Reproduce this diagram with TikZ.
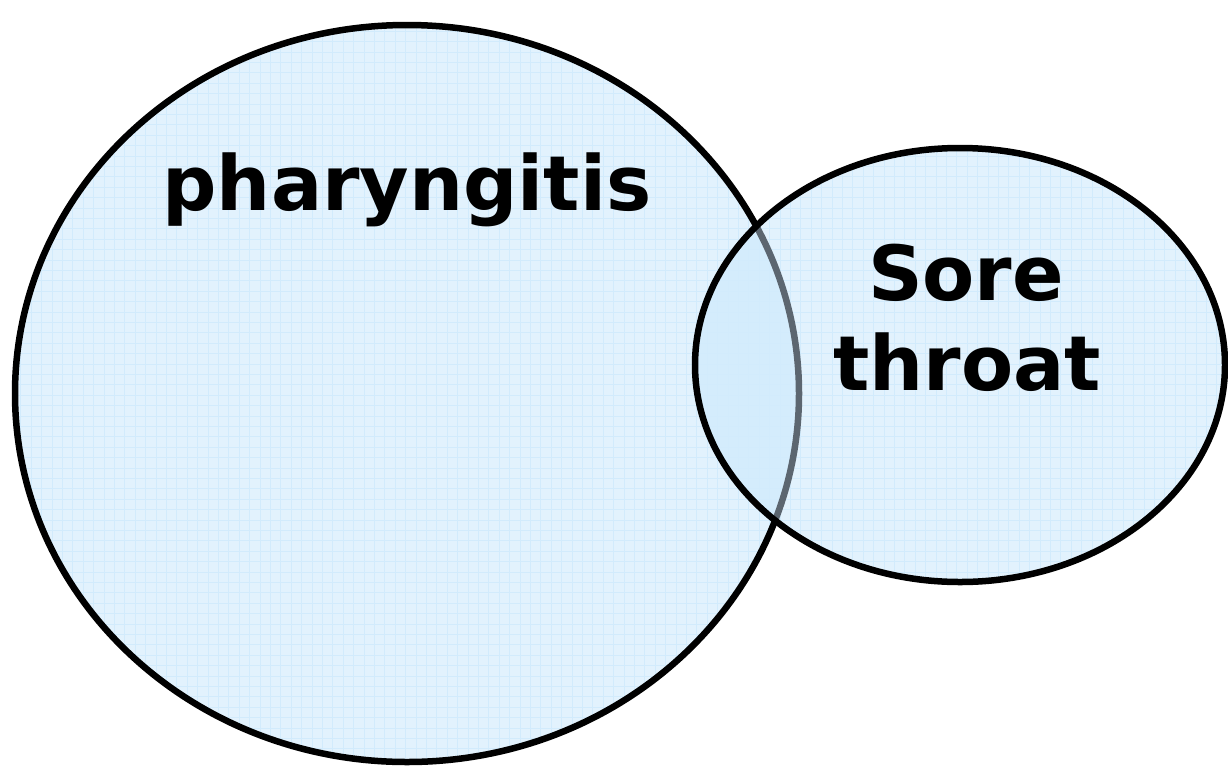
\documentclass[tikz,border=0pt]{standalone}
\usepackage{fontspec}
\setmainfont{DejaVu Sans}
\definecolor{vennfill}{RGB}{226,242,253}
\definecolor{venngrid}{RGB}{210,235,252}
\definecolor{vennmid}{RGB}{212,236,252}
\definecolor{venngray}{RGB}{92,102,112}
\begin{document}
\begin{tikzpicture}[x=1pt,y=-1pt,
  outline/.style={line width=6.5pt,draw=black},
  gridline/.style={venngrid,line width=0.7pt},
  label/.style={font=\bfseries\fontsize{76}{90}\selectfont,anchor=base,inner sep=0pt}]
\useasboundingbox (0,0) rectangle (1228,769);
\def\bigshape{(407,393.5) ellipse [x radius=392,y radius=368.5]}
\def\smallshape{(960,365) ellipse [x radius=265,y radius=217]}
\def\gridlines{%
  \foreach \i in {0,...,118} {\draw[gridline] (\i*10.4,0) -- (\i*10.4,769);}
  \foreach \j in {0,...,74} {\draw[gridline] (0,\j*10.4) -- (1228,\j*10.4);}}
% big set
\fill[vennfill] \bigshape;
\begin{scope}
  \clip \bigshape;
  \gridlines
\end{scope}
\draw[outline] \bigshape;
% small set
\fill[vennfill] \smallshape;
\begin{scope}
  \clip \smallshape;
  \fill[vennmid] \bigshape;
  \gridlines
  \draw[venngray,line width=6.5pt] \bigshape;
\end{scope}
\draw[outline] \smallshape;
% labels
\node[label] (phar) at (407,210) {pharyngitis};
\node[label] (sore) at (966,300) {Sore};
\node[label] (throat) at (967,390) {throat};
\end{tikzpicture}
\end{document}
